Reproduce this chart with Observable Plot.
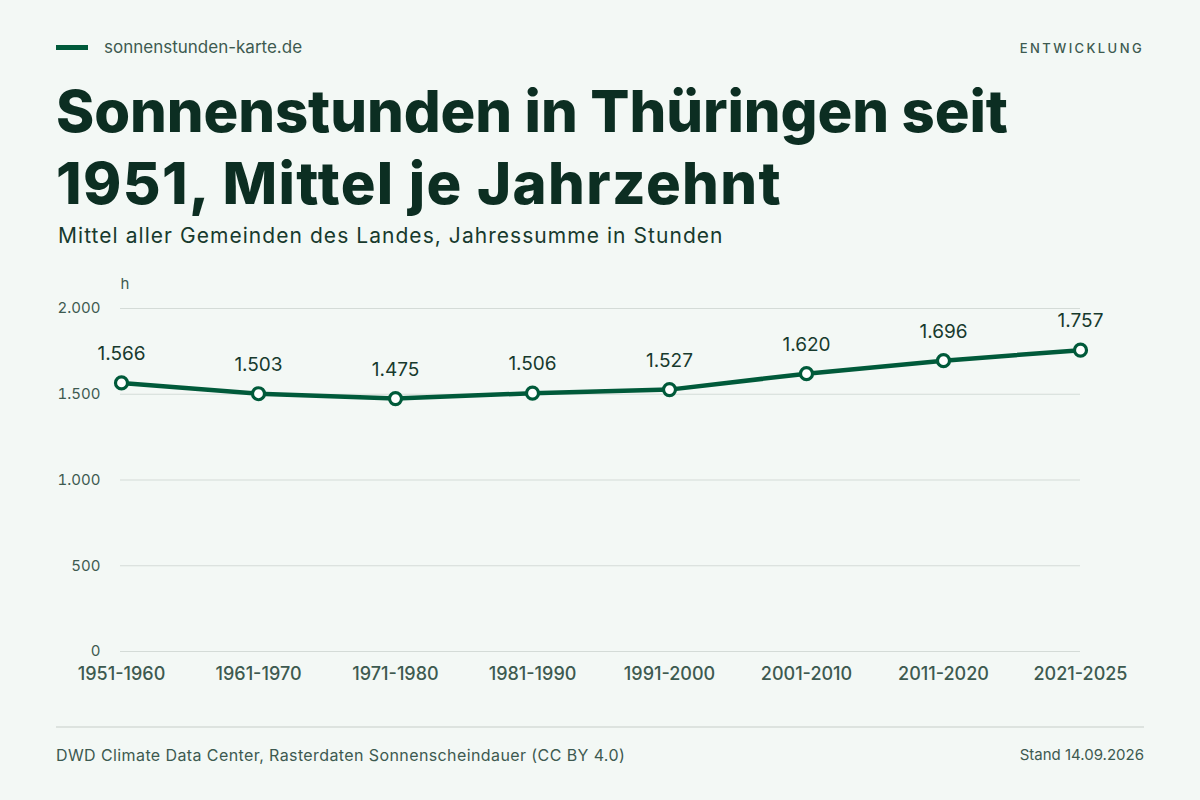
<!DOCTYPE html>
<html>
<head>
<meta charset="utf-8">
<script src="https://cdn.jsdelivr.net/npm/d3@7"></script>
<script src="https://cdn.jsdelivr.net/npm/@observablehq/plot@0.6"></script>
<style>
  html, body { margin: 0; padding: 0; }
  body { width: 1200px; height: 800px; background: #f3f8f5; font-family: Inter, "Noto Sans", sans-serif; position: relative; overflow: hidden; }
  .abs { position: absolute; }
  #brandbar { left: 56px; top: 45px; width: 32px; height: 5px; background: #005a3a; }
  #brand { left: 104px; top: 37px; font-size: 17px; color: #3d5a50; line-height: 20px; }
  #kicker { right: 56px; top: 40px; font-size: 13px; letter-spacing: 2.4px; color: #3d5a50; font-weight: 500; line-height: 16px; }
  #title { left: 56px; top: 75px; font-size: 58px; font-weight: 800; color: #0c2e22; line-height: 72px; letter-spacing: -0.1px; width: 1120px; }
  #title .l2 { letter-spacing: 1.4px; }
  #subtitle { left: 58px; top: 222px; font-size: 21px; color: #173a2d; line-height: 28px; letter-spacing: 1.05px; }
  #chart { left: 0; top: 260px; }
  #rule { left: 56px; top: 726px; width: 1088px; height: 2px; background: #dde3df; }
  #source { left: 56px; top: 745px; font-size: 16px; color: #3d5a50; line-height: 20px; letter-spacing: 0.4px; }
  #stand { right: 56px; top: 746px; font-size: 15px; color: #3d5a50; line-height: 18px; }
</style>
</head>
<body>
<div class="abs" id="brandbar"></div>
<div class="abs" id="brand">sonnenstunden-karte.de</div>
<div class="abs" id="kicker">ENTWICKLUNG</div>
<div class="abs" id="title">Sonnenstunden in Thüringen seit<br><span class="l2">1951, Mittel je Jahrzehnt</span></div>
<div class="abs" id="subtitle">Mittel aller Gemeinden des Landes, Jahressumme in Stunden</div>
<div class="abs" id="chart"></div>
<div class="abs" id="rule"></div>
<div class="abs" id="source">DWD Climate Data Center, Rasterdaten Sonnenscheindauer (CC BY 4.0)</div>
<div class="abs" id="stand">Stand 14.09.2026</div>
<script>
const decades = ["1951-1960", "1961-1970", "1971-1980", "1981-1990", "1991-2000", "2001-2010", "2011-2020", "2021-2025"];
const hours = [1566, 1503, 1475, 1506, 1527, 1620, 1696, 1757];
const yTicks = [0, 500, 1000, 1500, 2000];
const yUnit = "h";

const de = d3.formatLocale({decimal: ",", thousands: ".", grouping: [3], currency: ["", " €"]});
const fmt = de.format(",d");
const data = decades.map((d, i) => ({decade: d, value: hours[i]}));

const green = "#005a3a";
const chart = Plot.plot({
  width: 1200,
  height: 440,
  marginLeft: 120,
  marginRight: 120,
  marginTop: 48,
  marginBottom: 49,
  style: {background: "transparent", fontFamily: "Inter, 'Noto Sans', sans-serif", color: "#3d5a50"},
  x: {type: "point", domain: decades, padding: 0, label: null},
  y: {domain: [0, 2000], ticks: yTicks, label: null},
  marks: [
    Plot.gridY(yTicks, {stroke: "#d4dbd7", strokeOpacity: 1, strokeWidth: 1}),
    Plot.axisY(yTicks, {tickSize: 0, tickPadding: 20, tickFormat: fmt, fontSize: 15, fill: "#3d5a50", letterSpacing: 0.3}),
    Plot.axisX({tickSize: 0, tickPadding: 16, fontSize: 18, fill: "#3d5a50", letterSpacing: 1.4, fontWeight: 500}),
    Plot.text([yUnit], {frameAnchor: "top-left", dy: -30, textAnchor: "start", fontSize: 15, fill: "#3d5a50"}),
    Plot.line(data, {x: "decade", y: "value", stroke: green, strokeWidth: 4.5}),
    Plot.dot(data, {x: "decade", y: "value", r: 6, fill: "#ffffff", stroke: green, strokeWidth: 3.2}),
    Plot.text(data, {x: "decade", y: "value", text: d => fmt(d.value), dy: -29, fontSize: 19, fill: "#173a2d", letterSpacing: 1.5})
  ]
});
document.getElementById("chart").appendChild(chart);
</script>
</body>
</html>
